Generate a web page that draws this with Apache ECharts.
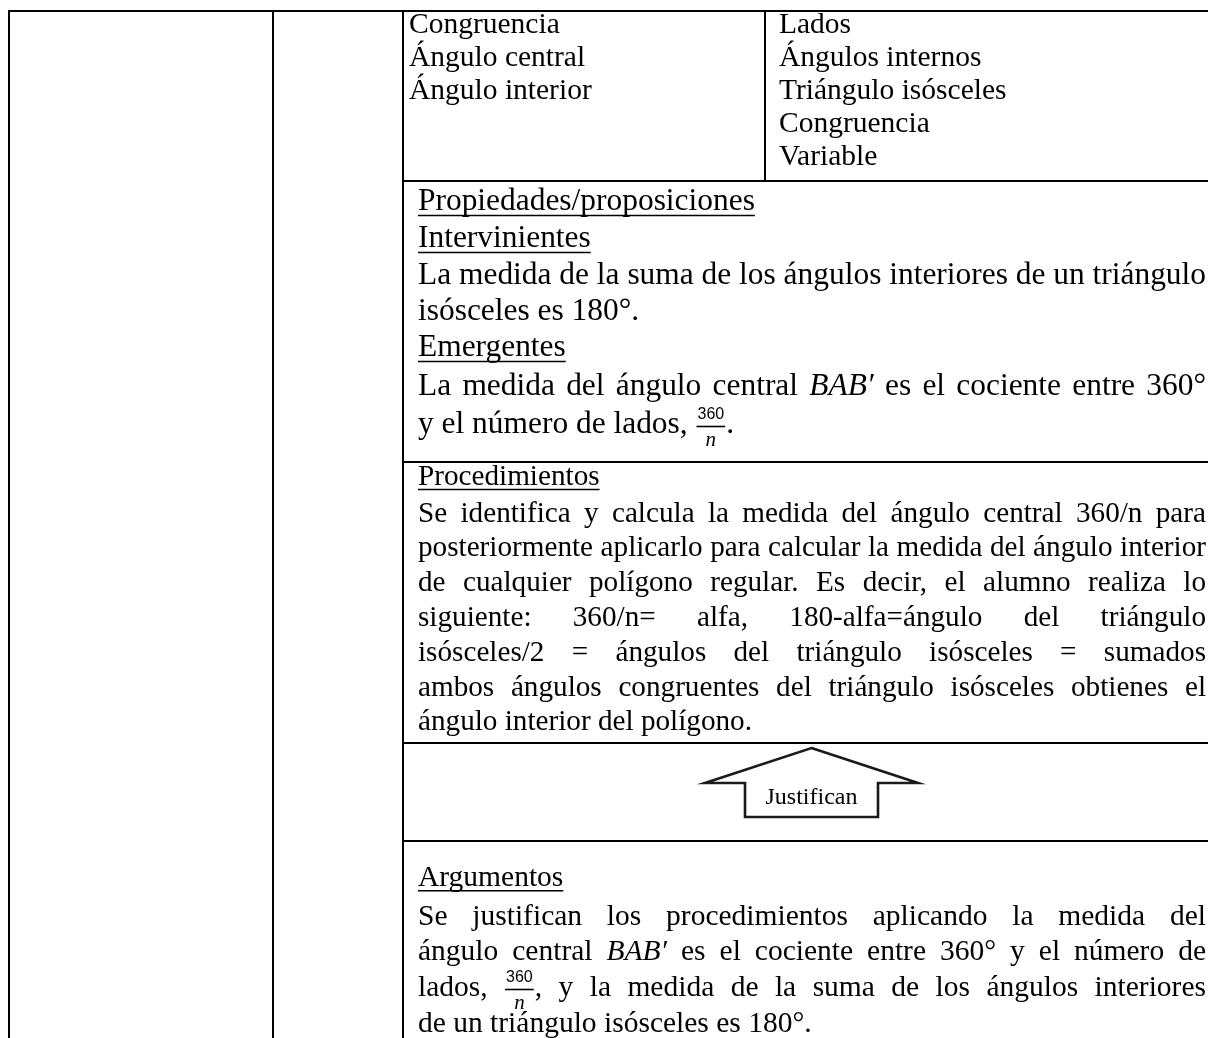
<!DOCTYPE html>
<html><head><meta charset="utf-8">
<script src="https://cdn.jsdelivr.net/npm/echarts@6/dist/echarts.min.js"></script>
<style>html,body{margin:0;padding:0;background:#fff}#c{width:1208px;height:1038px}</style>
</head><body><div id="c"></div>
<script>
// ---- content ----
const rowOneLeft = ['Congruencia', 'Ángulo central', 'Ángulo interior'];
const rowOneRight = ['Lados', 'Ángulos internos', 'Triángulo isósceles', 'Congruencia', 'Variable'];
const propLines = [
  {t: 'Propiedades/proposiciones', u: true},
  {t: 'Intervinientes', u: true},
  {t: 'La medida de la suma de los ángulos interiores de un triángulo', j: true},
  {t: 'isósceles es 180°.'},
  {t: 'Emergentes', u: true},
  {t: 'La medida del ángulo central *BAB′* es el cociente entre 360°', j: true},
  {t: 'y el número de lados, {360|n}.'}
];
const procLines = [
  {t: 'Procedimientos', u: true},
  {t: 'Se identifica y calcula la medida del ángulo central 360/n para', j: true},
  {t: 'posteriormente aplicarlo para calcular la medida del ángulo interior', j: true},
  {t: 'de cualquier polígono regular. Es decir, el alumno realiza lo', j: true},
  {t: 'siguiente: 360/n= alfa, 180-alfa=ángulo del triángulo', j: true},
  {t: 'isósceles/2 = ángulos del triángulo isósceles = sumados', j: true},
  {t: 'ambos ángulos congruentes del triángulo isósceles obtienes el', j: true},
  {t: 'ángulo interior del polígono.'}
];
const arrowLabel = 'Justifican';
const argLines = [
  {t: 'Argumentos', u: true},
  {t: 'Se justifican los procedimientos aplicando la medida del', j: true},
  {t: 'ángulo central *BAB′* es el cociente entre 360° y el número de', j: true},
  {t: 'lados, {360|n}, y la medida de la suma de los ángulos interiores', j: true},
  {t: 'de un triángulo isósceles es 180°.'}
];

// ---- layout ----
const FAM = '"Liberation Serif", "Times New Roman", serif';
const X_LEFT = 9, X_C2 = 273, X_C3 = 403, X_DIV = 765;
const Y_TOP = 11, Y_R1 = 181, Y_R2 = 462, Y_R3 = 743, Y_R4 = 841, Y_BOT = 1038;
const TX0 = 418, TX1 = 1206, TW = TX1 - TX0;

const cv = document.createElement('canvas');
const ctx = cv.getContext('2d');
function measure(text, size, italic, fam) {
  ctx.font = (italic ? 'italic ' : '') + size + 'px ' + (fam || FAM);
  return ctx.measureText(text).width;
}
const G = [];
function hline(x1, x2, y, w) { G.push({type: 'line', shape: {x1: x1, y1: y, x2: x2, y2: y}, style: {stroke: '#000', lineWidth: w || 2}}); }
function vline(x, y1, y2, w) { G.push({type: 'line', shape: {x1: x, y1: y1, x2: x, y2: y2}, style: {stroke: '#000', lineWidth: w || 2}}); }
function text(str, x, y, size, opt) {
  opt = opt || {};
  G.push({type: 'text', x: x, y: y, scaleX: opt.sx || 1,
    style: {text: str, font: (opt.italic ? 'italic ' : '') + size + 'px ' + (opt.fam || FAM), fill: '#000',
      align: opt.align || 'left', verticalAlign: 'middle'}});
}
function parse(line) {
  return line.split(' ').map(function (w) {
    let m = w.match(/^\{(.+)\|(.+)\}(.*)$/);
    if (m) return {kind: 'frac', num: m[1], den: m[2], tail: m[3]};
    m = w.match(/^\*(.+)\*(.*)$/);
    if (m) return {kind: 'w', text: m[1], italic: true, tail: m[2]};
    return {kind: 'w', text: w};
  });
}
const NUM_SIZE = 16, DEN_SIZE = 21, NUM_FAM = '"Liberation Sans", Arial, sans-serif';
function fracW(tok) { return Math.max(measure(tok.num, NUM_SIZE, false, NUM_FAM), measure(tok.den, DEN_SIZE, true)) + 4; }
function scaledW(tok, size) {
  if (tok.kind === 'frac') return measure(tok.tail, size);
  return measure(tok.text, size, tok.italic) + (tok.tail ? measure(tok.tail, size) : 0);
}
function fixedW(tok) { return tok.kind === 'frac' ? fracW(tok) : 0; }

function paragraph(lines, ys, size) {
  const toks = lines.map(function (l) { return parse(l.t); });
  const spW = measure(' ', size);
  let sx = 1;
  lines.forEach(function (l, i) {
    if (!l.j) return;
    const t = toks[i];
    const sw = t.reduce(function (a, k) { return a + scaledW(k, size); }, 0);
    const fw = t.reduce(function (a, k) { return a + fixedW(k); }, 0);
    const s = (TW - fw) / (sw + (t.length - 1) * spW);
    if (s < sx) sx = s;
  });
  lines.forEach(function (l, i) {
    const t = toks[i];
    const y = ys[i];
    const sw = t.reduce(function (a, k) { return a + scaledW(k, size); }, 0);
    const fw = t.reduce(function (a, k) { return a + fixedW(k); }, 0);
    let gap = spW * sx;
    if (l.j && t.length > 1) gap = (TW - fw - sw * sx) / (t.length - 1);
    let x = TX0;
    t.forEach(function (k) {
      if (k.kind === 'frac') {
        const w = fracW(k);
        text(k.num, x + w / 2, y - 10, NUM_SIZE, {align: 'center', fam: NUM_FAM});
        G.push({type: 'line', shape: {x1: x + 1, y1: y + 1.5, x2: x + w - 1, y2: y + 1.5}, style: {stroke: '#000', lineWidth: 1.6}});
        text(k.den, x + w / 2, y + 15, DEN_SIZE, {align: 'center', italic: true});
        x += w;
        if (k.tail) { text(k.tail, x, y, size, {sx: sx}); x += measure(k.tail, size) * sx; }
      } else {
        text(k.text, x, y, size, {sx: sx, italic: k.italic});
        x += measure(k.text, size, k.italic) * sx;
        if (k.tail) { text(k.tail, x, y, size, {sx: sx}); x += measure(k.tail, size) * sx; }
      }
      x += gap;
    });
    if (l.u) {
      const w = sw * sx;
      G.push({type: 'line', shape: {x1: TX0, y1: y + size * 0.43, x2: TX0 + w, y2: y + size * 0.43}, style: {stroke: '#000', lineWidth: 1.6}});
    }
  });
}

// table borders
hline(X_LEFT - 1, 1208, Y_TOP);
[X_LEFT, X_C2, X_C3].forEach(function (x) { vline(x, Y_TOP - 1, Y_BOT); });
vline(X_DIV, Y_TOP, Y_R1);
[Y_R1, Y_R2, Y_R3, Y_R4].forEach(function (y) { hline(X_C3, 1208, y); });

// row one
const ROW1_SIZE = 29.5;
rowOneLeft.forEach(function (s, i) { text(s, 409, 25 + i * 33, ROW1_SIZE); });
rowOneRight.forEach(function (s, i) { text(s, 779, 25 + i * 33, ROW1_SIZE); });

paragraph(propLines, [202, 239, 276, 312, 348, 387, 425], 31.5);
paragraph(procLines, [477, 514, 548, 583, 618, 653, 688, 722], 29.2);
paragraph(argLines, [878, 917, 952, 988, 1024], 29.5);

// arrow
const AX = 811.5;
G.push({type: 'polygon', shape: {points: [[AX, 748], [918, 783], [878, 783], [878, 817], [745, 817], [745, 783], [705, 783]]},
  style: {fill: '#fff', stroke: '#1a1a1a', lineWidth: 2.6, lineJoin: 'miter'}});
text(arrowLabel, AX, 798, 24, {align: 'center'});

const chart = echarts.init(document.getElementById('c'), null, {renderer: 'canvas'});
chart.setOption({animation: false, backgroundColor: '#fff', graphic: {elements: G}});
</script>
</body></html>
